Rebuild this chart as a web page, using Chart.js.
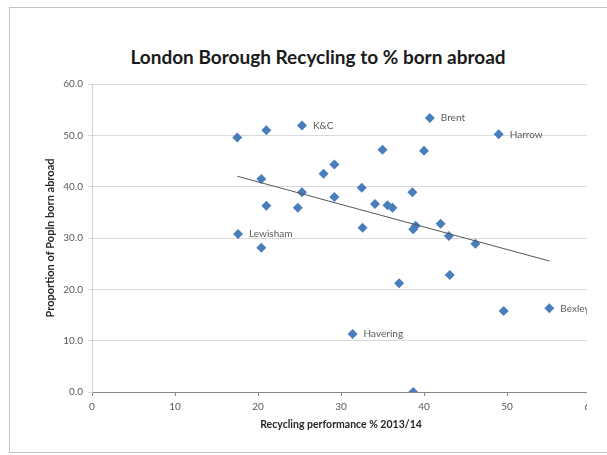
<!DOCTYPE html>
<html>
<head>
<meta charset="utf-8">
<script src="https://cdn.jsdelivr.net/npm/chart.js@4.4.1/dist/chart.umd.min.js"></script>
<style>
  html, body { margin: 0; padding: 0; background: #fff; overflow: hidden; }
  body { width: 607px; height: 455px; position: relative; }
  .frame-top, .frame-bottom, .frame-left { position: absolute; background: #c4c4c4; }
  .frame-top { left: 9px; top: 7px; width: 598px; height: 1px; }
  .frame-bottom { left: 9px; top: 452px; width: 598px; height: 1px; }
  .frame-left { left: 9px; top: 7px; width: 1px; height: 446px; }
  .title {
    position: absolute; left: 0; top: 45px; width: 636px; text-align: center;
    font: bold 19px Lato, sans-serif; color: #1a1a1a; line-height: 24px;
  }
  .clip { position: absolute; left: 0; top: 0; width: 587px; height: 455px; overflow: hidden; }
  canvas { display: block; }
</style>
</head>
<body>
<div class="frame-top"></div>
<div class="frame-bottom"></div>
<div class="frame-left"></div>
<div class="title">London Borough Recycling to % born abroad</div>
<div class="clip"><canvas id="chart" width="620" height="455"></canvas></div>
<script>
// Recycling performance % 2013/14 (x) vs proportion of population born abroad (y)
const recycling = [17.5, 21.0, 25.3, 20.4, 29.2, 27.9, 35.0, 40.0, 25.3, 29.2, 32.5,
  38.6, 21.0, 24.8, 34.1, 35.6, 36.2, 32.6, 38.7, 39.0, 17.6, 20.4, 40.7, 49.0,
  42.0, 43.0, 46.2, 43.1, 49.6, 55.1, 38.7, 37.0, 31.4];
const bornAbroad = [49.6, 51.0, 51.9, 41.5, 44.3, 42.5, 47.2, 47.0, 38.9, 38.0, 39.8,
  38.9, 36.3, 35.9, 36.6, 36.4, 35.9, 32.0, 31.7, 32.4, 30.8, 28.1, 53.4, 50.2,
  32.8, 30.4, 28.9, 22.8, 15.8, 16.3, 0.0, 21.2, 11.3];
const boroughNames = ["", "", "K&C", "", "", "", "", "", "", "", "",
  "", "", "", "", "", "", "", "", "", "Lewisham", "", "Brent", "Harrow",
  "", "", "", "", "", "Bexley", "", "", "Havering"];
const xTicks = [0, 10, 20, 30, 40, 50, 60];
const yTicks = [0, 10, 20, 30, 40, 50, 60];

const points = recycling.map((x, i) => ({ x: x, y: bornAbroad[i] }));

// linear trendline (least squares), like Excel's
const n = recycling.length;
const mx = recycling.reduce((a, b) => a + b, 0) / n;
const my = bornAbroad.reduce((a, b) => a + b, 0) / n;
let sxy = 0, sxx = 0;
for (let i = 0; i < n; i++) {
  sxy += (recycling[i] - mx) * (bornAbroad[i] - my);
  sxx += (recycling[i] - mx) * (recycling[i] - mx);
}
const slope = sxy / sxx;
const intercept = my - slope * mx;
const xMin = Math.min(...recycling), xMax = Math.max(...recycling);
const trend = [xMin, xMax].map(x => ({ x: x, y: intercept + slope * x }));

const pointLabels = {
  id: "pointLabels",
  afterDatasetsDraw(chart) {
    const ctx = chart.ctx;
    const meta = chart.getDatasetMeta(1);
    ctx.save();
    ctx.font = "10px Lato, sans-serif";
    ctx.fillStyle = "#595959";
    ctx.textBaseline = "middle";
    meta.data.forEach((pt, i) => {
      if (boroughNames[i]) ctx.fillText(boroughNames[i], pt.x + 11, pt.y);
    });
    ctx.restore();
  }
};

const ctx = document.getElementById("chart").getContext("2d");
new Chart(ctx, {
  type: "scatter",
  data: {
    datasets: [
      {
        type: "line",
        label: "Trend",
        data: trend,
        borderColor: "#555555",
        borderWidth: 1,
        pointRadius: 0,
        fill: false,
      },
      {
        label: "Boroughs",
        data: points,
        pointStyle: "rectRot",
        pointRadius: 5,
        pointBackgroundColor: "#4a7ebb",
        pointBorderColor: "#4a7ebb",
        pointBorderWidth: 0,
      },
    ],
  },
  options: {
    responsive: false,
    animation: false,
    layout: { padding: { left: 0, right: 30, top: 84, bottom: 0 } },
    plugins: {
      legend: { display: false },
      tooltip: { enabled: false },
      title: { display: false },
    },
    scales: {
      x: {
        type: "linear",
        min: 0,
        max: 60,
        afterBuildTicks: (s) => { s.ticks = xTicks.map(v => ({ value: v })); },
        afterFit: (s) => { s.height = 63; },
        grid: { drawOnChartArea: false, tickLength: 4, color: "#868686" },
        border: { color: "#868686" },
        ticks: {
          color: "#595959",
          padding: 5,
          font: { size: 10, family: "Lato, sans-serif" },
        },
        title: {
          display: true,
          text: "Recycling performance % 2013/14",
          color: "#262626",
          font: { size: 10.5, weight: "bold", family: "Lato, sans-serif", lineHeight: 1.2 },
          padding: { top: 0, bottom: 24 },
        },
      },
      y: {
        min: 0,
        max: 60,
        afterBuildTicks: (s) => { s.ticks = yTicks.map(v => ({ value: v })); },
        afterFit: (s) => { s.width = 92; },
        grid: { color: "#d9d9d9", tickLength: 4 },
        border: { color: "#d0d0d0" },
        ticks: {
          color: "#595959",
          padding: 5,
          font: { size: 10, family: "Lato, sans-serif" },
          callback: (v) => Number(v).toFixed(1),
        },
        title: {
          display: true,
          text: "Proportion of Popln born abroad",
          color: "#262626",
          font: { size: 11, weight: "bold", family: "Lato, sans-serif", lineHeight: 1.2 },
          padding: { top: 44, bottom: 0 },
        },
      },
    },
  },
  plugins: [pointLabels],
});
</script>
</body>
</html>
